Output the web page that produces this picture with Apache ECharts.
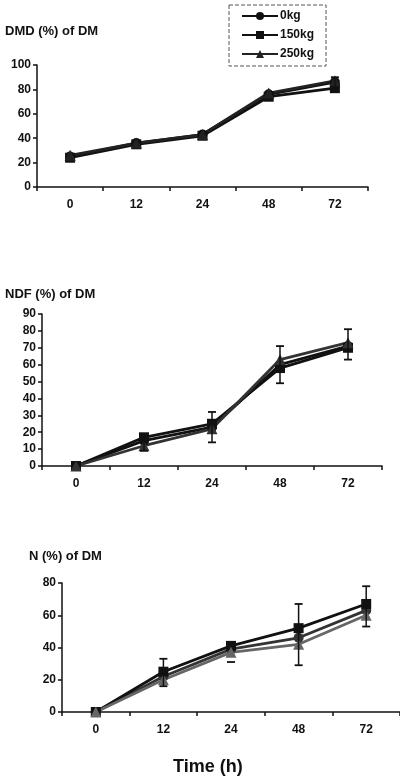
<!DOCTYPE html>
<html><head><meta charset="utf-8">
<script src="https://cdn.jsdelivr.net/npm/echarts@6/dist/echarts.min.js"></script>
<style>html,body{margin:0;padding:0;background:#fff}#c{width:400px;height:776px}</style>
</head><body><div id="c"></div>
<script>
var categories = ['0', '12', '24', '48', '72'];
var seriesNames = ['0kg', '150kg', '250kg'];
// Chart 1: DMD
var dmd0 = [25, 36, 43, 76, 86];
var dmd150 = [24, 35, 42, 74, 81];
var dmd250 = [26, 36, 43, 77, 87];
var dmdErrLow = [null, null, null, null, 80];
var dmdErrHigh = [null, null, null, null, 90];
// Chart 2: NDF
var ndf0 = [0, 15, 23, 60, 71];
var ndf150 = [0, 17, 25, 58, 70];
var ndf250 = [0, 12, 22, 63, 73];
var ndfErrLow = [null, 9, 14, 49, 63];
var ndfErrHigh = [null, 18, 32, 71, 81];
// Chart 3: N
var n0 = [0, 22, 39, 46, 63];
var n150 = [0, 25, 41, 52, 67];
var n250 = [0, 20, 37, 42, 60];
var nErrLow = [null, 16, 31, 29, 53];
var nErrHigh = [null, 33, null, 67, 78];

var font = 'Liberation Sans';
var symbols = ['circle', 'rect', 'triangle'];

function errSeries(idx, lows, highs) {
  var data = [];
  for (var i = 0; i < categories.length; i++) {
    if (lows[i] != null || highs[i] != null) data.push([i, lows[i], highs[i]]);
  }
  return {
    type: 'custom', xAxisIndex: idx, yAxisIndex: idx, z: 5, silent: true,
    data: data,
    renderItem: function (params, api) {
      var x = api.value(0), lo = api.value(1), hi = api.value(2);
      var children = [];
      var cx = api.coord([x, 0])[0];
      var pts = [];
      if (lo !== null && !isNaN(lo)) pts.push(api.coord([x, lo])[1]);
      if (hi !== null && !isNaN(hi)) pts.push(api.coord([x, hi])[1]);
      if (pts.length === 2) {
        children.push({type: 'line', shape: {x1: cx, y1: pts[0], x2: cx, y2: pts[1]}, style: {stroke: '#111', lineWidth: 1.5}});
      }
      pts.forEach(function (py) {
        children.push({type: 'line', shape: {x1: cx - 4, y1: py, x2: cx + 4, y2: py}, style: {stroke: '#111', lineWidth: 1.8}});
      });
      return {type: 'group', children: children};
    }
  };
}

function lineSeries(idx, name, data, k, color) {
  return {
    name: name, type: 'line', xAxisIndex: idx, yAxisIndex: idx, data: data,
    symbol: symbols[k], symbolSize: k === 2 ? 11 : 10,
    lineStyle: {color: color, width: 2.8},
    itemStyle: {color: color},
    z: 3
  };
}

var grids = [
  {left: 37, top: 65, width: 331, height: 122},
  {left: 42, top: 314, width: 340, height: 152},
  {left: 62, top: 583, width: 343, height: 129}
];
var yMax = [100, 90, 80];
var yInt = [20, 10, 20];

var xAxes = grids.map(function (g, i) {
  return {
    type: 'category', gridIndex: i, data: categories, boundaryGap: true,
    axisLine: {lineStyle: {color: '#111', width: 1.5}},
    axisTick: {show: true, length: 4, lineStyle: {color: '#111', width: 1.5}},
    axisLabel: {color: '#111', fontFamily: font, fontWeight: 'bold', fontSize: 12, margin: 12}
  };
});
var yAxes = grids.map(function (g, i) {
  return {
    type: 'value', gridIndex: i, min: 0, max: yMax[i], interval: yInt[i],
    splitLine: {show: false},
    axisLine: {show: true, lineStyle: {color: '#111', width: 1.5}},
    axisTick: {show: true, length: 4, lineStyle: {color: '#111', width: 1.5}},
    axisLabel: {color: '#111', fontFamily: font, fontWeight: 'bold', fontSize: 12, margin: 6}
  };
});

var titleStyle = {fontFamily: font, fontWeight: 'bold', fontSize: 13, color: '#111'};
var option = {
  animation: false,
  backgroundColor: '#fff',
  title: [
    {text: 'DMD (%) of DM', left: 5, top: 25, padding: 0, textStyle: titleStyle},
    {text: 'NDF (%) of DM', left: 5, top: 288, padding: 0, textStyle: titleStyle},
    {text: 'N (%) of DM', left: 29, top: 550, padding: 0, textStyle: titleStyle},
    {text: 'Time (h)', left: 173, top: 758, padding: 0, textStyle: {fontFamily: font, fontWeight: 'bold', fontSize: 18, color: '#111'}}
  ],
  legend: {
    data: seriesNames, orient: 'vertical', left: 229, top: 5,
    padding: [5, 12, 6, 12], itemGap: 7, itemWidth: 36, itemHeight: 10,
    borderColor: '#555', borderWidth: 1, borderType: 'dashed',
    textStyle: {fontFamily: font, fontWeight: 'bold', fontSize: 12, color: '#111', padding: [0, 0, 0, -3]},
    selectedMode: false
  },
  grid: grids,
  xAxis: xAxes,
  yAxis: yAxes,
  series: [
    lineSeries(0, '0kg', dmd0, 0, '#111'),
    lineSeries(0, '150kg', dmd150, 1, '#111'),
    lineSeries(0, '250kg', dmd250, 2, '#222'),
    errSeries(0, dmdErrLow, dmdErrHigh),
    lineSeries(1, '0kg', ndf0, 0, '#111'),
    lineSeries(1, '150kg', ndf150, 1, '#111'),
    lineSeries(1, '250kg', ndf250, 2, '#333'),
    errSeries(1, ndfErrLow, ndfErrHigh),
    lineSeries(2, '0kg', n0, 0, '#333'),
    lineSeries(2, '150kg', n150, 1, '#111'),
    lineSeries(2, '250kg', n250, 2, '#666'),
    errSeries(2, nErrLow, nErrHigh)
  ]
};
var chart = echarts.init(document.getElementById('c'), null, {renderer: 'canvas'});
chart.setOption(option);
</script></body></html>
